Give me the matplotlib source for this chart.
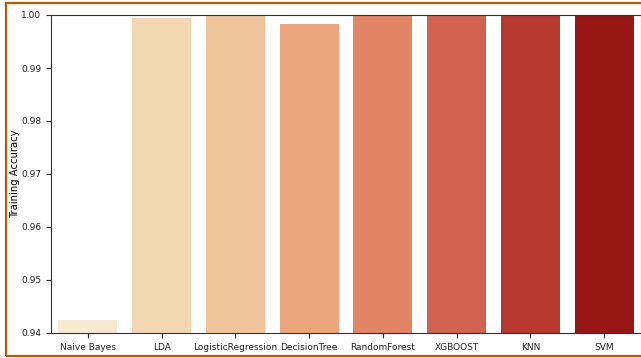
import matplotlib

matplotlib.use("Agg")
import matplotlib.pyplot as plt
import seaborn as sns

models = ["Naive Bayes", "LDA", "LogisticRegression", "DecisionTree",
          "RandomForest", "XGBOOST", "KNN", "SVM"]
train_acc = [0.9424, 0.9995, 1.0, 0.9983, 1.0, 1.0, 1.0, 1.0]

fig = plt.figure(figsize=(6.41, 3.58), dpi=100)
ax = fig.add_axes([51 / 641, 1 - 333 / 358, 590 / 641, 318 / 358])

colors = sns.color_palette("OrRd", len(models))
sns.barplot(x=models, y=train_acc, hue=models, palette=colors, legend=False,
            ax=ax, width=0.8)
ax.set_ylim(0.94, 1.0)
ax.set_xlim(-0.5, len(models) - 0.5)
ax.set_ylabel("Training Accuracy", fontsize=7.2)
ax.yaxis.set_label_coords(-0.052, 0.5)
ax.set_xlabel("")
ax.tick_params(labelsize=6.5, length=3.5, width=0.8, colors="#333333",
               labelcolor="#222222")
for s in ax.spines.values():
    s.set_linewidth(0.8)
    s.set_color("#333333")

# orange frame around the figure (cropped on the right)
fig.patches.append(plt.Rectangle((6 / 641, 2 / 358), 700 / 641, 353 / 358,
                                 transform=fig.transFigure, fill=False,
                                 edgecolor="#b35c00", lw=1.6))

fig.savefig("out.png", dpi=100)
